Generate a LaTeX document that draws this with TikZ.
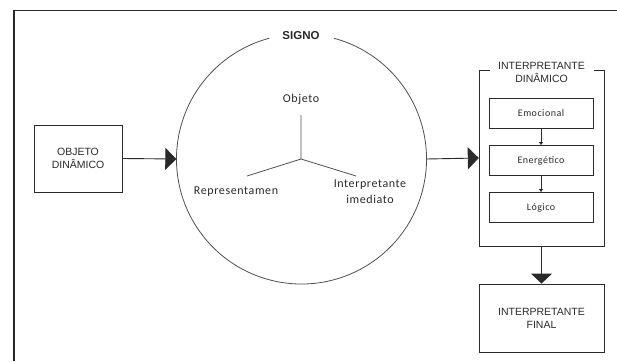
\documentclass[tikz,border=0pt]{standalone}
\usepackage{fontspec}
\setmainfont{Liberation Sans}
\newfontfamily\calib[LetterSpace=5]{Carlito}
\usetikzlibrary{arrows.meta}
\definecolor{ink}{HTML}{2A2A2A}
\definecolor{cline}{HTML}{505050}
\tikzset{
  box/.style={draw=ink, line width=0.9pt, rectangle, inner sep=0pt, align=center, text=ink},
  capstext/.style={font=\fontsize{10.5}{13}\selectfont, text=ink, align=center},
  smalltext/.style={font=\calib\fontsize{10}{12}\selectfont, text=ink, align=center},
  lowtext/.style={font=\calib\fontsize{12}{16}\selectfont, text=ink, align=center},
  bigarrow/.style={draw=ink, line width=0.9pt, -{Triangle[length=11pt,width=22pt]}},
  smallarrow/.style={draw=ink, line width=0.7pt, -{Triangle[length=3pt,width=4pt]}},
}
\begin{document}
\begin{tikzpicture}[x=1pt,y=-1pt]
\useasboundingbox (0,0) rectangle (617,361);
% outer frame
\draw[ink, line width=1.6pt] (14,361) -- (14,10.5) -- (617,10.5);
% left box
\node[box, capstext, minimum width=88pt, minimum height=67pt] (obj) at (78,158.5) {OBJETO\\DINÂMICO};
% signo circle
\node[circle, minimum size=250pt, inner sep=0pt] (signo) at (301.5,159) {};
\draw[cline, line width=0.8pt] (signo.center) ++(-75:125) arc[start angle=-75, end angle=255, radius=125];
\node[font=\bfseries\fontsize{11.5}{13}\selectfont, text=ink] (signot) at (301,36) {SIGNO};
% Y shape
\coordinate (yc) at (301,159);
\coordinate (ytop) at (301,115);
\coordinate (yleft) at (247,176);
\coordinate (yright) at (356,176);
\draw[cline, line width=0.8pt] (yc) -- (ytop) (yc) -- (yleft) (yc) -- (yright);
\node[lowtext] (objeto) at (301,99) {Objeto};
\node[lowtext] (repr) at (236,192) {Representamen};
\node[lowtext] (imed) at (370,192) {Interpretante\\imediato};
% right group
\node[minimum width=125pt, minimum height=176pt, inner sep=0pt] (di) at (541.5,158) {};
\draw[ink, line width=0.9pt] (490,70) -- (479,70) -- (479,246) -- (604,246) -- (604,70) -- (594,70);
\node[capstext] (dit) at (541.5,72) {INTERPRETANTE\\DINÂMICO};
\node[box, smalltext, minimum width=104pt, minimum height=30pt] (emo) at (541,113) {Emocional};
\node[box, smalltext, minimum width=104pt, minimum height=30pt] (ene) at (541,160.5) {Energético};
\node[box, smalltext, minimum width=104pt, minimum height=30pt] (log) at (541,207.5) {Lógico};
\draw[smallarrow] (emo) -- (ene);
\draw[smallarrow] (ene) -- (log);
\node[box, capstext, minimum width=125pt, minimum height=68pt] (fin) at (541.5,318) {INTERPRETANTE\\FINAL};
% connectors
\draw[bigarrow] (obj.east) -- (signo.west);
\draw[bigarrow] (signo.east) -- (di.west);
\draw[draw=ink, line width=0.9pt, -{Triangle[length=10pt,width=21pt]}] (di.south) -- (fin.north);
\end{tikzpicture}
\end{document}
